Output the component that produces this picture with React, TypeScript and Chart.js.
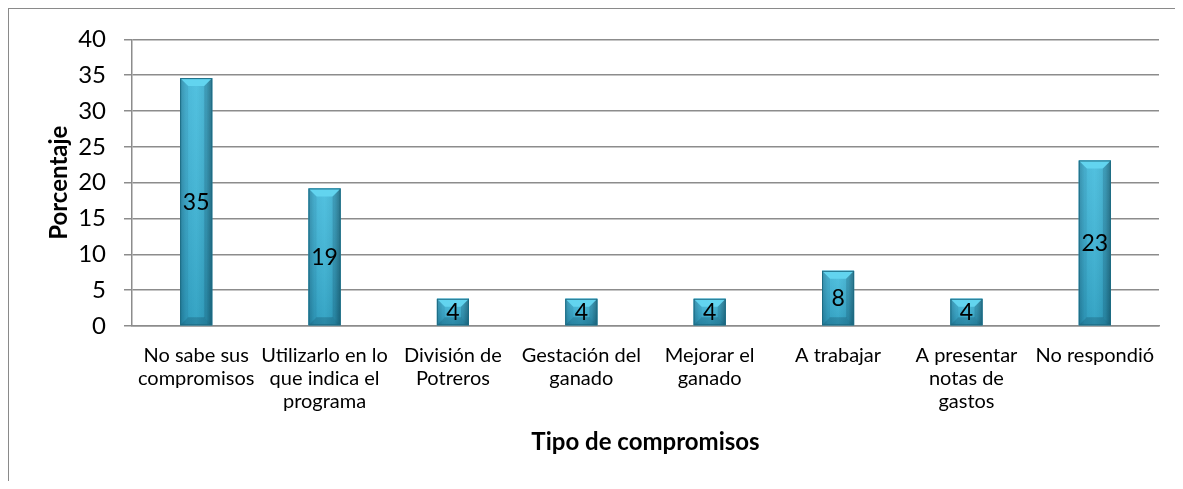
import React, { useEffect, useRef } from 'react';
import { Chart, registerables } from 'chart.js';

Chart.register(...registerables);

const categories: string[][] = [
  ['No sabe sus', 'compromisos'],
  ['Utilizarlo en lo', 'que indica el', 'programa'],
  ['División de', 'Potreros'],
  ['Gestación del', 'ganado'],
  ['Mejorar el', 'ganado'],
  ['A trabajar'],
  ['A presentar', 'notas de', 'gastos'],
  ['No respondió'],
];
const values: number[] = [34.6, 19.2, 3.8, 3.8, 3.8, 7.7, 3.8, 23.1];
const valueLabels: string[] = ['35', '19', '4', '4', '4', '8', '4', '23'];
const yMin = 0;
const yMax = 40;
const yStep = 5;
const xTitle = 'Tipo de compromisos';
const yTitle = 'Porcentaje';

const FONT = 'Lato';
const GRID = '#8c8c8c';

const frame = {
  id: 'frame',
  afterDraw(chart: any) {
    const ctx = chart.ctx as CanvasRenderingContext2D;
    ctx.save();
    ctx.fillStyle = '#8a8a8a';
    ctx.fillRect(0, 0, 2, chart.height);
    ctx.fillRect(0, 0, chart.width, 2);
    ctx.restore();
  },
};

const barDecor = {
  id: 'barDecor',
  afterDatasetsDraw(chart: any) {
    const ctx = chart.ctx as CanvasRenderingContext2D;
    const meta = chart.getDatasetMeta(0);
    meta.data.forEach((el: any, i: number) => {
      const { x, y, base, width } = el.getProps(['x', 'y', 'base', 'width'], true);
      const l = x - width / 2;
      const r = x + width / 2;
      const t = y;
      const b = base;
      const h = b - t;
      const bev = Math.min(8, h / 3.2);
      ctx.save();
      const g = ctx.createLinearGradient(l, 0, r, 0);
      g.addColorStop(0, '#2a8fae');
      g.addColorStop(0.18, '#38b0d3');
      g.addColorStop(0.5, '#3fbadc');
      g.addColorStop(0.82, '#35a9ca');
      g.addColorStop(1, '#217891');
      ctx.fillStyle = g;
      ctx.fillRect(l, t, width, h);
      const vg = ctx.createLinearGradient(0, t, 0, b);
      vg.addColorStop(0, 'rgba(255,255,255,0.10)');
      vg.addColorStop(1, 'rgba(0,30,50,0.14)');
      ctx.fillStyle = vg;
      ctx.fillRect(l, t, width, h);
      ctx.beginPath();
      ctx.moveTo(l, t);
      ctx.lineTo(r, t);
      ctx.lineTo(r - bev, t + bev);
      ctx.lineTo(l + bev, t + bev);
      ctx.closePath();
      ctx.fillStyle = '#62d4ef';
      ctx.fill();
      ctx.beginPath();
      ctx.moveTo(l, t);
      ctx.lineTo(l + bev, t + bev);
      ctx.lineTo(l + bev, b - bev);
      ctx.lineTo(l, b);
      ctx.closePath();
      ctx.fillStyle = 'rgba(0,40,60,0.08)';
      ctx.fill();
      ctx.beginPath();
      ctx.moveTo(r, t);
      ctx.lineTo(r, b);
      ctx.lineTo(r - bev, b - bev);
      ctx.lineTo(r - bev, t + bev);
      ctx.closePath();
      ctx.fillStyle = 'rgba(0,30,50,0.16)';
      ctx.fill();
      ctx.beginPath();
      ctx.moveTo(l, b);
      ctx.lineTo(r, b);
      ctx.lineTo(r - bev, b - bev);
      ctx.lineTo(l + bev, b - bev);
      ctx.closePath();
      ctx.fillStyle = 'rgba(0,30,50,0.20)';
      ctx.fill();
      ctx.strokeStyle = '#1e6c84';
      ctx.lineWidth = 1;
      ctx.strokeRect(l + 0.5, t + 0.5, width - 1, h - 1);
      ctx.fillStyle = '#000';
      ctx.font = `23px ${FONT}`;
      ctx.textAlign = 'center';
      ctx.textBaseline = 'middle';
      ctx.fillText(valueLabels[i], x, (t + b) / 2 + 1);
      ctx.restore();
    });
  },
};

export default function App() {
  const ref = useRef<HTMLCanvasElement | null>(null);
  useEffect(() => {
    if (!ref.current) return;
    Chart.defaults.font.family = FONT;
    const chart = new Chart(ref.current, {
      type: 'bar',
      data: {
        labels: categories,
        datasets: [
          {
            data: values,
            backgroundColor: '#38b0d2',
            borderWidth: 0,
            barPercentage: 0.25,
            categoryPercentage: 1,
          },
        ],
      },
      options: {
        animation: false,
        responsive: false,
        devicePixelRatio: 1,
        layout: { padding: { top: 30, right: 16, left: 0, bottom: 0 } },
        plugins: {
          legend: { display: false },
          tooltip: { enabled: false },
        },
        scales: {
          x: {
            grid: { display: false },
            border: { display: true, color: GRID, width: 1.5 },
            ticks: {
              color: '#000',
              font: { size: 20, lineHeight: 1.16 },
              padding: 10,
              autoSkip: false,
              maxRotation: 0,
              minRotation: 0,
            },
            title: {
              display: true,
              text: xTitle,
              color: '#000',
              font: { size: 24, weight: 'bold', lineHeight: 1.2 },
              padding: { top: 0, bottom: 24 },
            },
            afterFit: (s: any) => {
              s.height = 155;
            },
          },
          y: {
            min: yMin,
            max: yMax,
            ticks: {
              stepSize: yStep,
              color: '#000',
              font: { size: 24 },
              padding: 18,
            },
            grid: { color: GRID, lineWidth: 1.5, tickLength: 8, drawTicks: true },
            border: { display: true, color: GRID, width: 1.5 },
            title: {
              display: true,
              text: yTitle,
              color: '#000',
              font: { size: 24, weight: 'bold', lineHeight: 1.2 },
              padding: { top: 38, bottom: 0 },
            },
            afterFit: (s: any) => {
              s.width = 125;
            },
          },
        },
      },
      plugins: [frame, barDecor],
    } as any);
    return () => chart.destroy();
  }, []);
  return (
    <canvas
      ref={ref}
      width={1168}
      height={474}
      style={{ display: 'block', width: 1168, height: 474, marginLeft: -1, marginTop: -1 }}
    />
  );
}
